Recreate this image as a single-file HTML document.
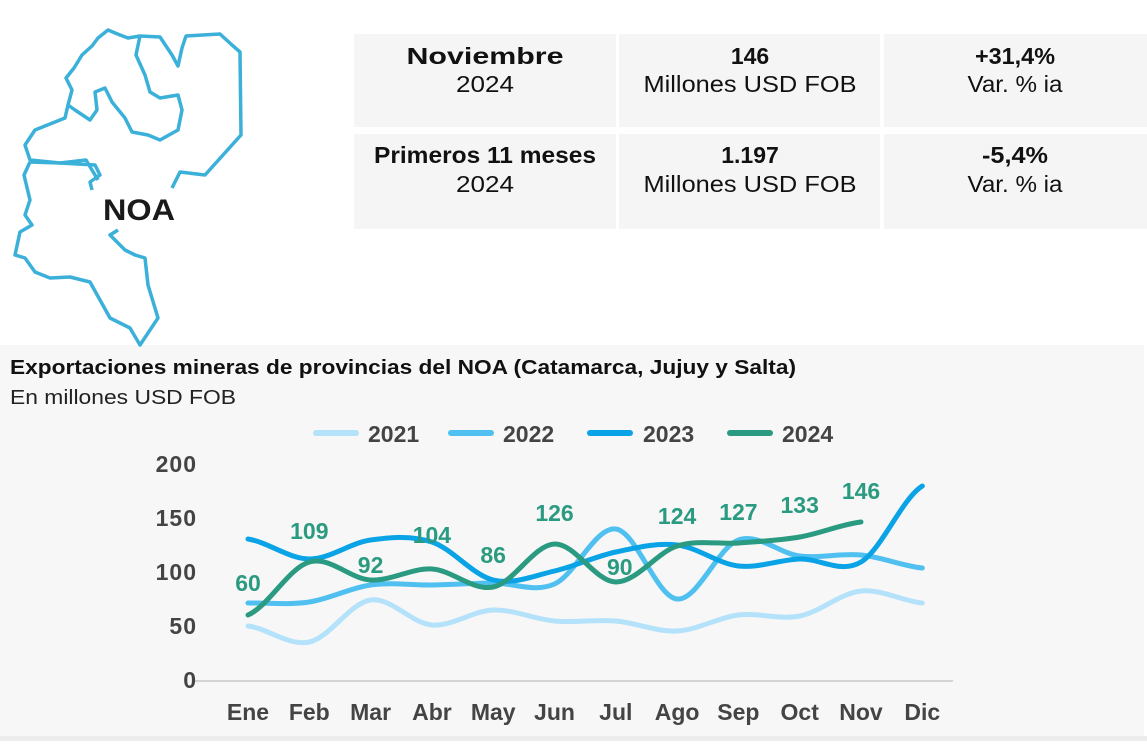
<!DOCTYPE html>
<html><head><meta charset="utf-8"><style>
body{margin:0;width:1147px;height:741px;background:#fff;overflow:hidden;font-family:"Liberation Sans",sans-serif}
</style></head><body>
<svg id="s" width="1147" height="741" xmlns="http://www.w3.org/2000/svg" font-family="Liberation Sans, sans-serif">
<rect x="0" y="345" width="1144" height="391" fill="#f7f7f7"/>
<rect x="0" y="736" width="1147" height="5" fill="#ececec"/>
<g fill="#f5f5f5">
<rect x="354" y="34" width="262" height="93"/><rect x="619" y="34" width="261" height="93"/><rect x="884" y="34" width="263" height="93"/>
<rect x="354" y="134" width="262" height="95"/><rect x="619" y="134" width="261" height="95"/><rect x="884" y="134" width="263" height="95"/>
</g>
<g text-anchor="middle" fill="#111" font-size="23">
<text x="485" y="64" font-weight="bold" textLength="157" lengthAdjust="spacingAndGlyphs">Noviembre</text><text x="485" y="92" textLength="58" lengthAdjust="spacingAndGlyphs">2024</text>
<text x="750" y="64" font-weight="bold">146</text><text x="750" y="92" textLength="213" lengthAdjust="spacingAndGlyphs">Millones USD FOB</text>
<text x="1015" y="64" font-weight="bold" textLength="80" lengthAdjust="spacingAndGlyphs">+31,4%</text><text x="1015" y="92" textLength="95" lengthAdjust="spacingAndGlyphs">Var. % ia</text>
<text x="485" y="163" font-weight="bold" textLength="222" lengthAdjust="spacingAndGlyphs">Primeros 11 meses</text><text x="485" y="192" textLength="58" lengthAdjust="spacingAndGlyphs">2024</text>
<text x="750" y="163" font-weight="bold">1.197</text><text x="750" y="192" textLength="213" lengthAdjust="spacingAndGlyphs">Millones USD FOB</text>
<text x="1015" y="163" font-weight="bold" textLength="66" lengthAdjust="spacingAndGlyphs">-5,4%</text><text x="1015" y="192" textLength="95" lengthAdjust="spacingAndGlyphs">Var. % ia</text>
</g>
<g fill="none" stroke="#3bb0d8" stroke-width="3.5" stroke-linejoin="round">
<path d="M98,180 L86,160 L60,163 L30,160 L25,145 L35,130 L65,118 L68,105 L72,90 L66,78 L74,68 L82,55 L92,46 L98,38 L108,30 L120,35 L128,38 L140,36 L160,37 L172,55 L178,66 L182,48 L186,36 L220,34 L232,45 L240,52 L241,135 L205,175 L180,172 L172,188"/>
<path d="M140,36 L136,55 L145,75 L150,92 L160,98 L178,95 L182,110 L178,130 L160,140 L148,135 L132,132 L125,118 L112,102 L105,88 L95,92 L97,110 L90,120 L75,110 L68,105"/>
<path d="M30,162 L24,175 L30,200 L25,215 L32,225 L20,232 L15,255 L25,258 L35,272 L50,278 L70,277 L90,282 L100,300 L110,318 L130,328 L140,345 L158,318 L148,285 L145,258 L135,255 L125,250 L115,240 L110,235 L118,230"/>
<path d="M30,162 L60,163 L95,165 L100,175 L90,182 L92,190"/>
</g>
<text x="139" y="220" text-anchor="middle" font-weight="bold" font-size="30" fill="#1a1a1a" textLength="72" lengthAdjust="spacingAndGlyphs">NOA</text>
<text x="10" y="374" font-weight="bold" font-size="20" fill="#111" textLength="786" lengthAdjust="spacingAndGlyphs">Exportaciones mineras de provincias del NOA (Catamarca, Jujuy y Salta)</text>
<text x="10" y="404" font-size="20" fill="#222" textLength="226" lengthAdjust="spacingAndGlyphs">En millones USD FOB</text>
<g stroke-width="6" stroke-linecap="round">
<line x1="316" y1="433" x2="356" y2="433" stroke="#b3e2fa"/>
<line x1="451" y1="433" x2="491" y2="433" stroke="#4fc0f0"/>
<line x1="590" y1="433" x2="630" y2="433" stroke="#0aa3e6"/>
<line x1="730" y1="433" x2="770" y2="433" stroke="#2a9a80"/>
</g>
<g font-weight="bold" font-size="23" fill="#444">
<text x="368" y="442">2021</text><text x="503" y="442">2022</text><text x="643" y="442">2023</text><text x="782" y="442">2024</text>
</g>
<line x1="195" y1="681" x2="953" y2="681" stroke="#d4d4d4" stroke-width="2"/>
<g font-weight="bold" font-size="23" fill="#444" text-anchor="end" letter-spacing="1">
<text x="197" y="472">200</text><text x="197" y="526">150</text><text x="197" y="580">100</text><text x="197" y="634">50</text><text x="197" y="688">0</text>
</g>
<g id="xl" font-weight="bold" font-size="23" fill="#444" text-anchor="middle"></g>
<g id="ln" fill="none" stroke-width="5" stroke-linecap="round"></g>
<g id="lb" font-weight="bold" font-size="23" fill="#2a9a80" text-anchor="middle"></g>
</svg>
<script>
var NS="http://www.w3.org/2000/svg";
var m=["Ene","Feb","Mar","Abr","May","Jun","Jul","Ago","Sep","Oct","Nov","Dic"];
function X(i){return 248+i*61.3}
m.forEach(function(t,i){var e=document.createElementNS(NS,"text");e.setAttribute("x",X(i));e.setAttribute("y",720);e.textContent=t;document.getElementById("xl").appendChild(e)});
var S=[["#b3e2fa",[626,642,600,625,610,621,621,631,615,616,591,603]],
["#4fc0f0",[603,602,585,585,583,584,529,599,540,556,555,568]],
["#0aa3e6",[539,559,540,542,580,571,552,545,566,559,562,486]],
["#2a9a80",[615,562,580,569,587,544,582,546,543,537,522]]];
S.forEach(function(s){var y=s[1],d="M"+X(0)+","+y[0];
for(var i=0;i<y.length-1;i++){var y0=y[Math.max(i-1,0)],y3=y[Math.min(i+2,y.length-1)];
var x1=X(i),x2=X(i+1),dx=61.3/3;
d+=" C"+(x1+dx)+","+(y[i]+(y[i+1]-y0)/6)+" "+(x2-dx)+","+(y[i+1]-(y3-y[i])/6)+" "+x2+","+y[i+1];}
var p=document.createElementNS(NS,"path");p.setAttribute("d",d);p.setAttribute("stroke",s[0]);document.getElementById("ln").appendChild(p)});
var L=[[60,591],[109,539],[92,573],[104,543],[86,563],[126,521],[90,575],[124,524],[127,520],[133,513],[146,499]];
L.forEach(function(l,i){var e=document.createElementNS(NS,"text");e.setAttribute("x",X(i)+(i==6?4:0));e.setAttribute("y",l[1]);e.textContent=l[0];document.getElementById("lb").appendChild(e)});
</script>
</body></html>
